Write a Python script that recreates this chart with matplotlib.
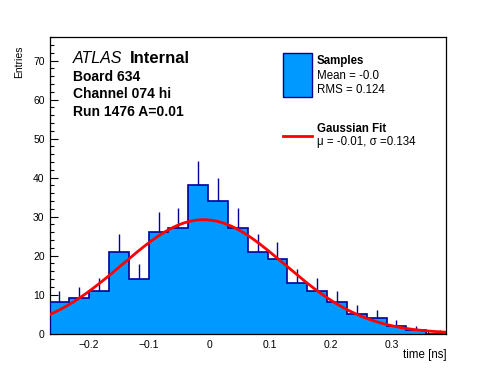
import numpy as np
import matplotlib
matplotlib.use('Agg')
import matplotlib.pyplot as plt
from matplotlib.patches import Rectangle
from matplotlib.lines import Line2D
from matplotlib.ticker import MultipleLocator

plt.rcParams['font.family'] = ['Liberation Sans', 'DejaVu Sans']

# histogram of time values (20 bins)
x_min, x_max = -0.264, 0.39
counts = [8, 9, 11, 21, 14, 26, 27, 38, 34, 27,
          21, 19, 13, 11, 8, 5, 4, 2, 1, 0]
# gaussian fit parameters
fit_const = 29.2
fit_mu = -0.01
fit_sigma = 0.134

fill_col = '#0099ff'
line_col = '#000099'

W, H = 496, 372
fig = plt.figure(figsize=(W / 100, H / 100), dpi=100)
ax = fig.add_axes([49.5 / W, 1 - 333.5 / H, (446 - 49.5) / W, (333.5 - 37.3) / H])

counts = np.array(counts, dtype=float)
edges = np.linspace(x_min, x_max, len(counts) + 1)
centers = 0.5 * (edges[:-1] + edges[1:])
err = np.sqrt(counts)
m = counts > 0
ax.vlines(centers[m], counts[m] - err[m], counts[m] + err[m], color=line_col, lw=1.0, zorder=1)
ax.stairs(counts, edges, fill=True, color=fill_col, zorder=2)
ax.stairs(counts, edges, color=line_col, lw=1.2, zorder=3)

xs = np.linspace(x_min, x_max, 400)
ax.plot(xs, fit_const * np.exp(-0.5 * ((xs - fit_mu) / fit_sigma) ** 2), color='red', lw=2.0, zorder=4)

ax.set_xlim(x_min, x_max)
ax.set_ylim(0, 76)
ax.xaxis.set_major_locator(MultipleLocator(0.1))
ax.xaxis.set_minor_locator(MultipleLocator(0.02))
ax.yaxis.set_major_locator(MultipleLocator(10))
ax.yaxis.set_minor_locator(MultipleLocator(2))
ax.tick_params(which='both', direction='in', top=False, right=False, labelsize=7.5, width=0.8)
ax.tick_params(which='major', length=6)
ax.tick_params(which='minor', length=3)
ax.tick_params(axis='x', pad=5)
for s in ax.spines.values():
    s.set_linewidth(0.9)
ax.xaxis.set_major_formatter(plt.FuncFormatter(lambda v, p: ('%g' % round(v, 2)).replace('-', '\u2212')))


def px(x, y):
    return x / W, 1 - y / H


# axis titles (ROOT style, aligned to the axis ends)
fig.text(*px(446.5, 355), 'time [ns]', fontsize=8.3, ha='right', va='center')
fig.text(*px(19, 45), 'Entries', fontsize=7.5, rotation=90, ha='center', va='top')

# ATLAS label block
fig.text(*px(73, 58.5), 'ATLAS', fontsize=11.5, style='italic', va='center')
fig.text(*px(129.5, 58.5), 'Internal', fontsize=12, weight='bold', va='center')
fig.text(*px(73, 77), 'Board 634', fontsize=10, weight='bold', va='center')
fig.text(*px(73, 94.5), 'Channel 074 hi', fontsize=10, weight='bold', va='center')
fig.text(*px(73, 112), 'Run 1476 A=0.01', fontsize=10, weight='bold', va='center')

# legend
fig.add_artist(Rectangle(px(283.3, 96.7), 28.4 / W, 43.4 / H, transform=fig.transFigure,
                         facecolor=fill_col, edgecolor=line_col, lw=1.0))
fig.text(*px(317, 61), 'Samples', fontsize=8.3, weight='bold', va='center')
fig.text(*px(317, 76), 'Mean = -0.0', fontsize=8.3, va='center')
fig.text(*px(317, 90), 'RMS = 0.124', fontsize=8.3, va='center')
fig.add_artist(Line2D([283 / W, 312 / W], [1 - 136 / H] * 2, transform=fig.transFigure,
                      color='red', lw=2.0))
fig.text(*px(317, 129), 'Gaussian Fit', fontsize=8.3, weight='bold', va='center')
fig.text(*px(317, 142), '\u03bc = -0.01, \u03c3 =0.134', fontsize=8.3, va='center')

fig.savefig('out.png', dpi=100)
